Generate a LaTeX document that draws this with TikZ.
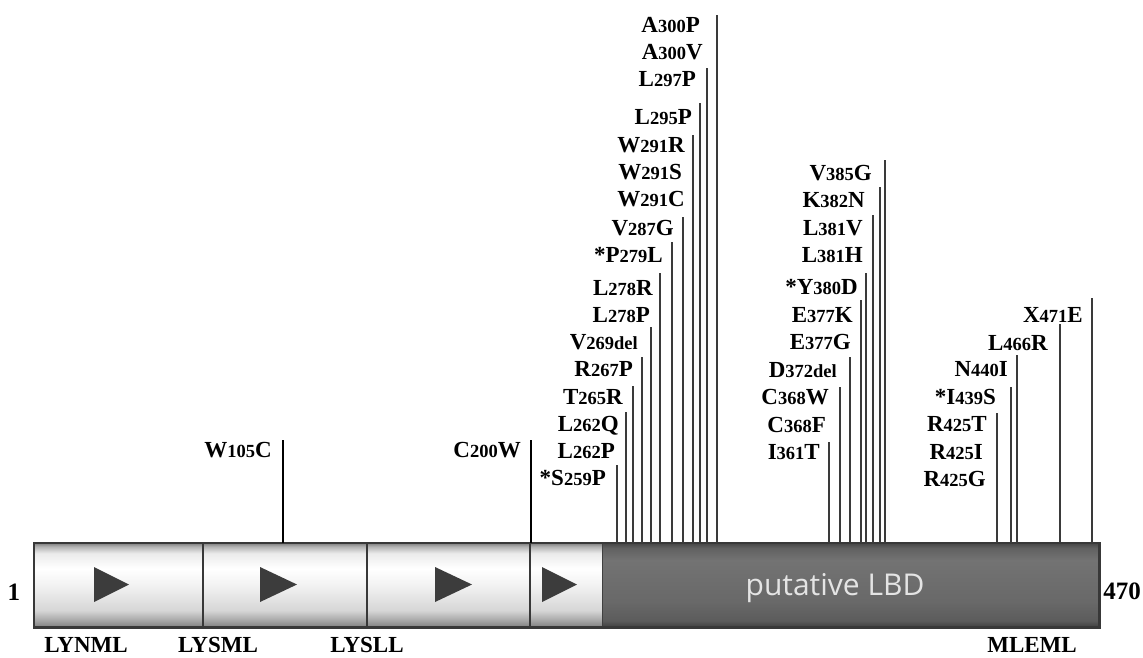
\documentclass[tikz,border=0pt]{standalone}
\usepackage{fontspec}
\setmainfont{Liberation Serif}
\newfontfamily\lbdfont{Open Sans}

\definecolor{barline}{HTML}{383838}
\definecolor{mutgray}{HTML}{3A3A3A}
\definecolor{arrowfill}{HTML}{3C3C3C}
\definecolor{lbdtext}{HTML}{E4E4E4}

% TikZ maps a node onto the band 25bp..75bp of a declared shading
% light domain segments: grey rim, bright upper part, greyer towards the bottom
\pgfdeclareverticalshading{seglight}{100bp}{%
  color(0bp)=(black!50); color(25bp)=(black!50); color(29bp)=(black!35);
  color(35bp)=(black!16); color(50bp)=(black!5); color(60bp)=(white);
  color(69bp)=(black!8); color(73bp)=(black!30); color(75bp)=(black!50);
  color(100bp)=(black!50)}
% dark ligand-binding segment
\pgfdeclareverticalshading{segdark}{100bp}{%
  color(0bp)=(black!75); color(25bp)=(black!75); color(29bp)=(black!64);
  color(40bp)=(black!59); color(65bp)=(black!55); color(72bp)=(black!62);
  color(75bp)=(black!72); color(100bp)=(black!72)}

% mutation label: large letters, smaller position digits
\newcommand\mutlbl[3]{#1{\fontsize{18.5}{18.5}\selectfont #2}#3}

\begin{document}
\begin{tikzpicture}[x=1pt,y=-1pt,
  mutlabel/.style={anchor=base east, inner sep=0pt,
    font=\fontsize{23}{23}\selectfont\bfseries},
  motif/.style={anchor=base, inner sep=0pt,
    font=\fontsize{23}{23}\selectfont\bfseries},
  endnum/.style={anchor=base, inner sep=0pt,
    font=\fontsize{25}{25}\selectfont\bfseries},
  mutline/.style={draw=mutgray, line width=1.6},
  seglightbox/.style={anchor=north west, inner sep=0pt, shading=seglight},
  arrowhead/.style={fill=arrowfill, draw=none}]
\useasboundingbox (0,0) rectangle (1143,657);

% ---------------- protein bar ----------------
\node[seglightbox, minimum width=169, minimum height=84] (seg1) at (34,543) {};
\node[seglightbox, minimum width=164, minimum height=84] (seg2) at (203,543) {};
\node[seglightbox, minimum width=163, minimum height=84] (seg3) at (367,543) {};
\node[seglightbox, minimum width=72, minimum height=84] (seg4) at (530,543) {};
\node[anchor=north west, inner sep=0pt, shading=segdark,
      minimum width=497, minimum height=84] (lbd) at (602,543) {};
\coordinate (bartop) at (0,543);

\draw[barline, line width=2] (seg1.north east) -- (seg1.south east);
\draw[barline, line width=2] (seg2.north east) -- (seg2.south east);
\draw[barline, line width=2] (seg3.north east) -- (seg3.south east);
\draw[black!75, line width=1.5] (seg4.north east) -- (seg4.south east);
\draw[barline, line width=2.5] (seg1.north west) rectangle (lbd.south east);

% repeat motifs
\fill[arrowhead] (94,567) -- (129,584.5) -- (94,602) -- cycle;
\fill[arrowhead] (260,567) -- (297,584.5) -- (260,602) -- cycle;
\fill[arrowhead] (435,567) -- (472,584.5) -- (435,602) -- cycle;
\fill[arrowhead] (542,567) -- (577,584.5) -- (542,602) -- cycle;

\node[anchor=base, inner sep=0pt, text=lbdtext,
      font=\fontsize{30}{30}\selectfont\lbdfont] (lbdname) at (835,595.5) {putative LBD};

% ends and motif names
\node[endnum] (nstart) at (14,600.5) {1};
\node[endnum] (nend) at (1122,599) {470};
\node[motif] (m1) at (86,652) {LYNML};
\node[motif] (m2) at (218,652) {LYSML};
\node[motif] (m3) at (367,652) {LYSLL};
\node[motif] (m4) at (1032,652) {MLEML};

% ---------------- mutation sites ----------------
\foreach \n/\x/\t in {
  W105/283/440, C200/531/440,
  S259/617/465, L262/626/412, T265/633/386, R267/642/357, V269/651/327,
  L278/660/273, P279/672/242, V287/683/217, W291/693/135, L295/700/103,
  L297/707/68, A300/717/15,
  I361/829/442, C368/840/387, D372/850/357, E377/861/300, Y380/866/273,
  L381/873/215, K382/880/187, V385/885/160,
  R425/997/413, I439/1011/387, N440/1017/355, L466/1060/324, X471/1092/298}
{
  \coordinate (s\n) at (\x,\t);
  \draw[mutline] (s\n) -- (s\n |- bartop);
}
\draw[black, line width=1.8] (sW105) -- (sW105 |- bartop);
\draw[black, line width=1.8] (sC200) -- (sC200 |- bartop);

% ---------------- mutation labels ----------------
\foreach \n/\x/\y/\lab in {
  W105C/272/457.6/{\mutlbl{W}{105}{C}},
  C200W/521/457.6/{\mutlbl{C}{200}{W}},
  A300P/700/32.6/{\mutlbl{A}{300}{P}},
  A300V/703/59.6/{\mutlbl{A}{300}{V}},
  L297P/696/86.6/{\mutlbl{L}{297}{P}},
  L295P/692/124.6/{\mutlbl{L}{295}{P}},
  W291R/685/152.6/{\mutlbl{W}{291}{R}},
  W291S/682/179.6/{\mutlbl{W}{291}{S}},
  W291C/685/206.6/{\mutlbl{W}{291}{C}},
  V287G/674/235.6/{\mutlbl{V}{287}{G}},
  P279L/663/262.6/{\mutlbl{*P}{279}{L}},
  L278R/653/295.6/{\mutlbl{L}{278}{R}},
  L278P/650/322.6/{\mutlbl{L}{278}{P}},
  V269del/638/349.6/{\mutlbl{V}{269del}{}},
  R267P/633/376.6/{\mutlbl{R}{267}{P}},
  T265R/623/404.6/{\mutlbl{T}{265}{R}},
  L262Q/619/431.6/{\mutlbl{L}{262}{Q}},
  L262P/615/458.6/{\mutlbl{L}{262}{P}},
  S259P/606/485.6/{\mutlbl{*S}{259}{P}},
  V385G/872/180.6/{\mutlbl{V}{385}{G}},
  K382N/865/207.6/{\mutlbl{K}{382}{N}},
  L381V/863/235.6/{\mutlbl{L}{381}{V}},
  L381H/863/262.6/{\mutlbl{L}{381}{H}},
  Y380D/858/294.6/{\mutlbl{*Y}{380}{D}},
  E377K/853/322.6/{\mutlbl{E}{377}{K}},
  E377G/851/349.6/{\mutlbl{E}{377}{G}},
  D372del/837/377.6/{\mutlbl{D}{372del}{}},
  C368W/829/404.6/{\mutlbl{C}{368}{W}},
  C368F/826/432.6/{\mutlbl{C}{368}{F}},
  I361T/820/459.6/{\mutlbl{I}{361}{T}},
  X471E/1083/322.6/{\mutlbl{X}{471}{E}},
  L466R/1048/350.6/{\mutlbl{L}{466}{R}},
  N440I/1008/376.6/{\mutlbl{N}{440}{I}},
  I439S/996/404.6/{\mutlbl{*I}{439}{S}},
  R425T/987/431.6/{\mutlbl{R}{425}{T}},
  R425I/983/459.6/{\mutlbl{R}{425}{I}},
  R425G/986/486.6/{\mutlbl{R}{425}{G}}}
{
  \node[mutlabel] (l\n) at (\x,\y) {\lab};
}
\end{tikzpicture}
\end{document}
